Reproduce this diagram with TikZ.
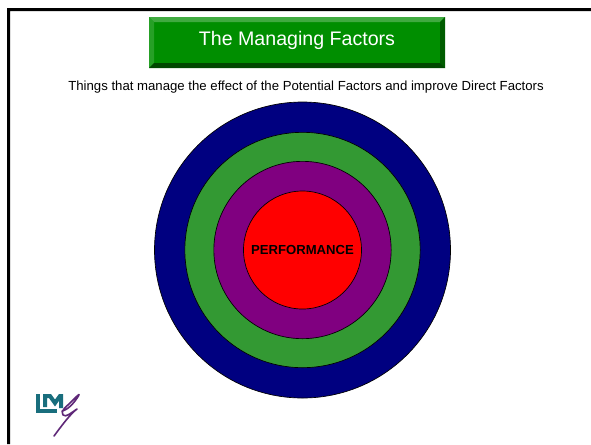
\documentclass[tikz,border=0pt]{standalone}
\usepackage{fontspec}
\setmainfont{Liberation Sans}
\definecolor{navyring}{RGB}{0,0,128}
\definecolor{greenring}{RGB}{51,153,51}
\definecolor{purplering}{RGB}{128,0,128}
\definecolor{redcore}{RGB}{255,0,0}
\definecolor{boxgreen}{RGB}{0,142,0}
\definecolor{bevtop}{RGB}{64,170,64}
\definecolor{bevleft}{RGB}{38,160,38}
\definecolor{bevright}{RGB}{0,92,0}
\definecolor{bevbot}{RGB}{0,72,0}
\definecolor{logoteal}{RGB}{25,110,125}
\definecolor{logopurple}{RGB}{95,40,120}
\tikzset{
  ring/.style={draw=black,line width=0.5pt,circle,inner sep=0pt,minimum size=#1},
  logoline/.style={line width=1.2pt,draw=logopurple,line cap=round,line join=round},
  logoblock/.style={line width=3pt,draw=logoteal,line join=miter}
}
\begin{document}
\begin{tikzpicture}[x=0.75pt,y=-0.75pt]
\useasboundingbox (0,0) rectangle (591,444);
\fill[white] (0,0) rectangle (591,444);
% slide frame
\fill[black] (7,444) -- (7,8) -- (591,8) -- (591,11) -- (10,11) -- (10,444) -- cycle;
% title box
\fill[boxgreen] (149,17) rectangle (445,68);
\fill[bevtop] (149,17) -- (445,17) -- (440,22) -- (154,22) -- cycle;
\fill[bevleft] (149,17) -- (154,22) -- (154,63) -- (149,68) -- cycle;
\fill[bevright] (445,17) -- (445,68) -- (440,63) -- (440,22) -- cycle;
\fill[bevbot] (149,68) -- (154,63) -- (440,63) -- (445,68) -- cycle;
\node[text=white,font=\fontsize{14.7}{18}\selectfont,inner sep=0pt] (title) at (297,40.5) {The Managing Factors};
\node[text=black,font=\fontsize{9.89}{12}\selectfont,inner sep=0pt] (subtitle) at (306,87) {Things that manage the effect of the Potential Factors and improve Direct Factors};
% rings
\node[ring=222pt,fill=navyring] (r1) at (302.5,250) {};
\node[ring=176.5pt,fill=greenring] (r2) at (302.5,250) {};
\node[ring=133pt,fill=purplering] (r3) at (302.5,250) {};
\node[ring=88.5pt,fill=redcore] (r4) at (302.5,250) {};
\node[text=black,font=\bfseries\fontsize{9.84}{12}\selectfont,inner sep=0pt] (perf) at (302.5,250) {PERFORMANCE};
% logo
\draw[logoblock] (38,394) -- (38,411) -- (57,411);
\draw[logoblock] (45,407) -- (45,396) -- (50,396) -- (55,403) -- (60,396) -- (61,396) -- (61,408);
\draw[logoline] (62,411) .. controls (68,410) and (75,402) .. (79,395) .. controls (80,393) and (76,397) .. (70,403) .. controls (66,407) and (60,411) .. (63,415) .. controls (66,418) and (72,412) .. (77,409) .. controls (70,414) and (60,428) .. (54,436);
\end{tikzpicture}
\end{document}
